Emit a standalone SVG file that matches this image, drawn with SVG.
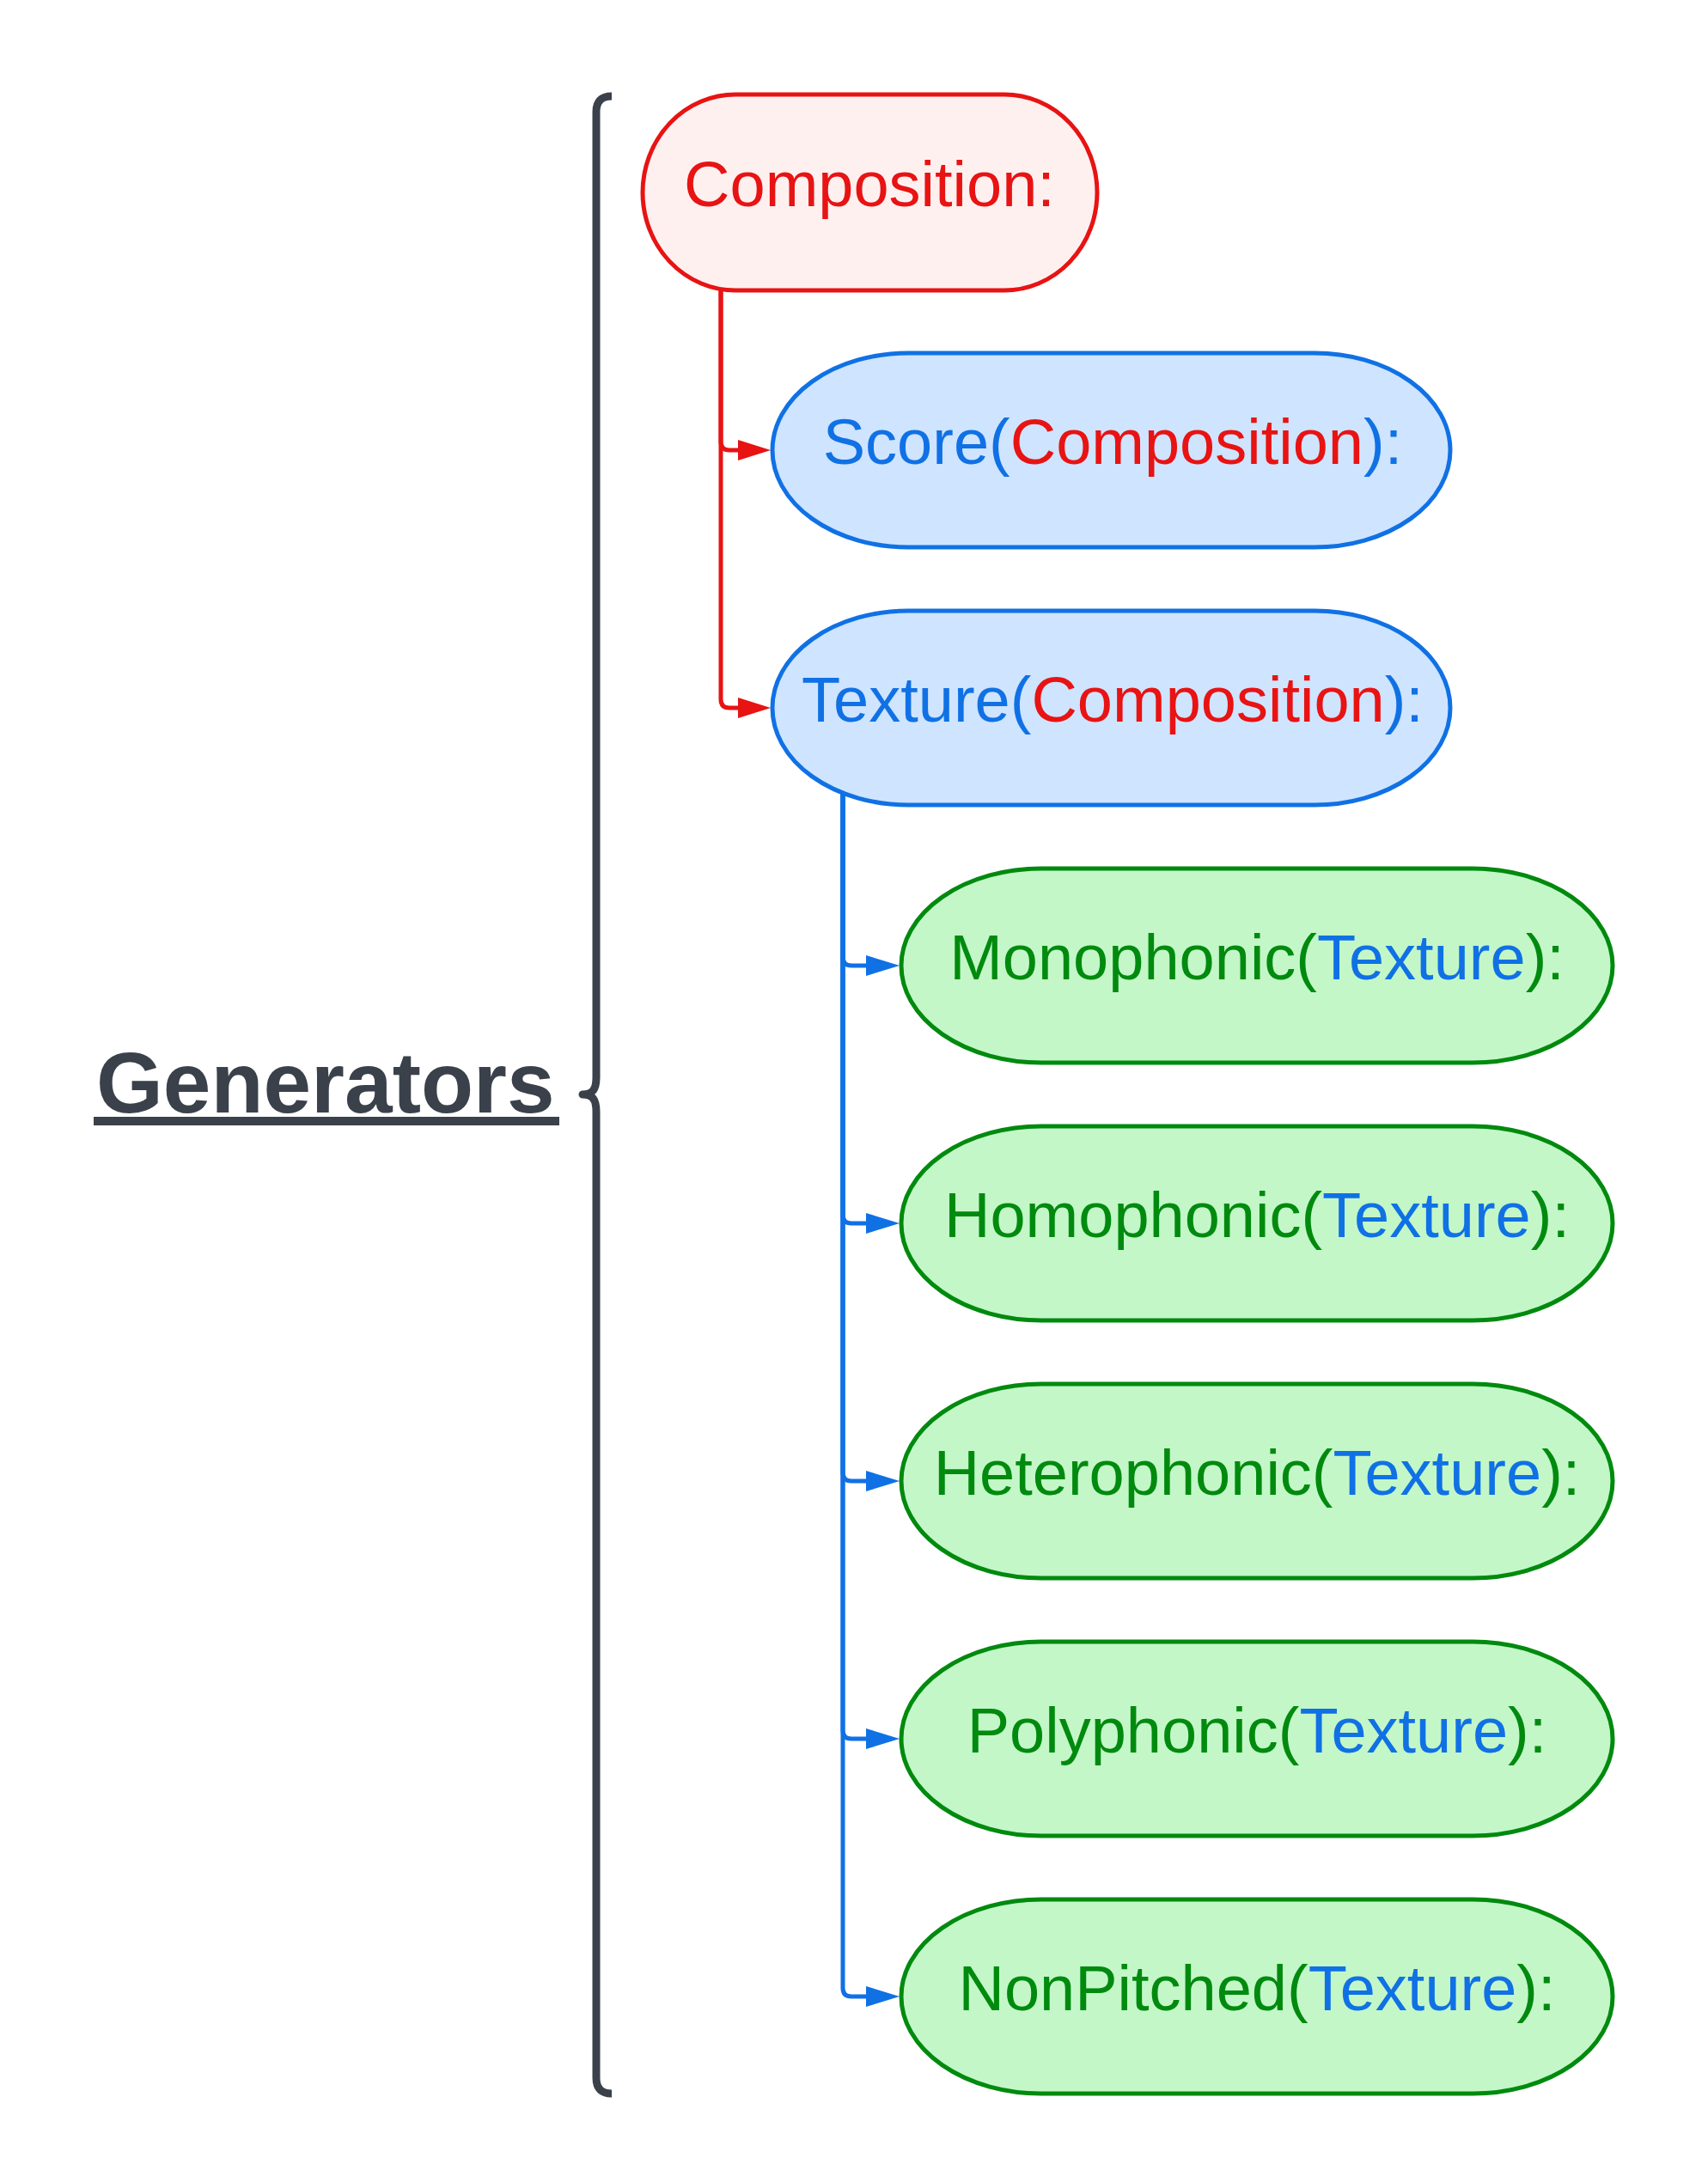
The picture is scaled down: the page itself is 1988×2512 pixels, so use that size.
<svg xmlns="http://www.w3.org/2000/svg" width="1988" height="2512" viewBox="0 0 1988 2512">
<style>
text{font-family:"Liberation Sans",Arial,sans-serif;}
.lbl{font-size:74px;text-anchor:middle;}
.red{fill:#e81313;}
.blue{fill:#1071e5;}
.green{fill:#008a0e;}
.nred{fill:#fff0f0;stroke:#e81313;stroke-width:5;}
.nblue{fill:#cfe4ff;stroke:#1071e5;stroke-width:5;}
.ngreen{fill:#c3f7c8;stroke:#008a0e;stroke-width:5;}
.cred{fill:none;stroke:#e81313;stroke-width:5;}
.cblue{fill:none;stroke:#1071e5;stroke-width:5;}
</style>
<defs>
<marker id="ahRed" markerUnits="userSpaceOnUse" markerWidth="40" markerHeight="26" refX="2" refY="12" orient="auto" viewBox="0 0 40 26">
<path d="M0,0 L38,12 L0,24 Z" fill="#e81313"/>
</marker>
<marker id="ahBlue" markerUnits="userSpaceOnUse" markerWidth="40" markerHeight="26" refX="2" refY="12" orient="auto" viewBox="0 0 40 26">
<path d="M0,0 L39,12 L0,24 Z" fill="#1071e5"/>
</marker>
</defs>
<rect width="1988" height="2512" fill="#ffffff"/>

<g id="generators-label">
<text x="112" y="1295" font-size="100" font-weight="bold" fill="#3a414a">Generators</text>
<rect x="109" y="1300" width="542" height="10" fill="#3a414a"/>
<path d="M712 112 Q694 112 694 130 L694 1254 C694 1268 690 1274 678 1274 C690 1274 694 1280 694 1294 L694 2419 Q694 2437 712 2437" fill="none" stroke="#3a414a" stroke-width="9" stroke-linejoin="round"/>
</g>

<g id="connectors">
<path class="cred" d="M839 320 L839 514 Q839 524 849 524 L861 524" marker-end="url(#ahRed)"/>
<path class="cred" d="M839 320 L839 814 Q839 824 849 824 L861 824" marker-end="url(#ahRed)"/>
<path class="cblue" d="M981 900 L981 1114 Q981 1124 991 1124 L1010 1124" marker-end="url(#ahBlue)"/>
<path class="cblue" d="M981 900 L981 1414 Q981 1424 991 1424 L1010 1424" marker-end="url(#ahBlue)"/>
<path class="cblue" d="M981 900 L981 1714 Q981 1724 991 1724 L1010 1724" marker-end="url(#ahBlue)"/>
<path class="cblue" d="M981 900 L981 2014 Q981 2024 991 2024 L1010 2024" marker-end="url(#ahBlue)"/>
<path class="cblue" d="M981 900 L981 2314 Q981 2324 991 2324 L1010 2324" marker-end="url(#ahBlue)"/>
</g>

<g id="composition">
<rect class="nred" x="748" y="110" width="529" height="228" rx="108" ry="114"/>
<text class="lbl red" x="1012" y="240">Composition:</text>
</g>

<g id="score">
<rect class="nblue" x="899" y="411" width="789" height="226" rx="158" ry="113"/>
<text class="lbl blue" x="1295" y="540">Score(<tspan class="red">Composition</tspan>):</text>
</g>

<g id="texture">
<rect class="nblue" x="899" y="711" width="789" height="226" rx="158" ry="113"/>
<text class="lbl blue" x="1295" y="840">Texture(<tspan class="red">Composition</tspan>):</text>
</g>

<g id="monophonic">
<rect class="ngreen" x="1049" y="1011" width="828" height="226" rx="163" ry="113"/>
<text class="lbl green" x="1463" y="1140">Monophonic(<tspan class="blue">Texture</tspan>):</text>
</g>

<g id="homophonic">
<rect class="ngreen" x="1049" y="1311" width="828" height="226" rx="163" ry="113"/>
<text class="lbl green" x="1463" y="1440">Homophonic(<tspan class="blue">Texture</tspan>):</text>
</g>

<g id="heterophonic">
<rect class="ngreen" x="1049" y="1611" width="828" height="226" rx="163" ry="113"/>
<text class="lbl green" x="1463" y="1740">Heterophonic(<tspan class="blue">Texture</tspan>):</text>
</g>

<g id="polyphonic">
<rect class="ngreen" x="1049" y="1911" width="828" height="226" rx="163" ry="113"/>
<text class="lbl green" x="1463" y="2040">Polyphonic(<tspan class="blue">Texture</tspan>):</text>
</g>

<g id="nonpitched">
<rect class="ngreen" x="1049" y="2211" width="828" height="226" rx="163" ry="113"/>
<text class="lbl green" x="1463" y="2340">NonPitched(<tspan class="blue">Texture</tspan>):</text>
</g>
</svg>
